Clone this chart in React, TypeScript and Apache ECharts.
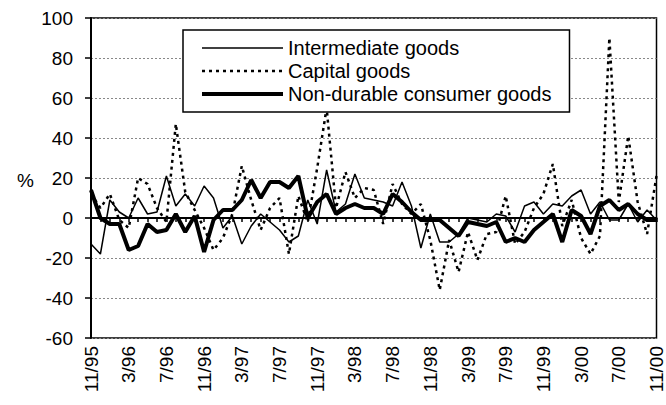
import React, { useEffect, useRef } from "react";
import * as echarts from "echarts";

const months: string[] = [
  "11/95", "12/95",
  "1/96", "2/96", "3/96", "4/96", "5/96", "6/96", "7/96", "8/96", "9/96", "10/96", "11/96", "12/96",
  "1/97", "2/97", "3/97", "4/97", "5/97", "6/97", "7/97", "8/97", "9/97", "10/97", "11/97", "12/97",
  "1/98", "2/98", "3/98", "4/98", "5/98", "6/98", "7/98", "8/98", "9/98", "10/98", "11/98", "12/98",
  "1/99", "2/99", "3/99", "4/99", "5/99", "6/99", "7/99", "8/99", "9/99", "10/99", "11/99", "12/99",
  "1/00", "2/00", "3/00", "4/00", "5/00", "6/00", "7/00", "8/00", "9/00", "10/00", "11/00",
];

const intermediateGoods: number[] = [
  -13, -18, 9, 3, 0, 10, 2, 3, 21, 6,
  12, 6, 16, 10, -5, 1, -13, -4, 2, -2,
  -6, -12, -9, 9, -3, 24, 3, 7, 22, 10,
  9, 8, 6, 18, 6, -15, 2, -12, -12, -8,
  0, -1, -2, 2, 1, -7, 6, 8, 2, 7,
  6, 11, 14, 2, 8, -1, -1, 7, -2, 4,
  -1,
];

const capitalGoods: number[] = [
  12, 5, 12, -1, -5, 20, 17, 5, -2, 47,
  13, 4, -5, -16, -10, 2, 26, 9, -6, 5,
  10, -18, 11, -2, 25, 55, 5, 23, 10, 15,
  14, -3, 17, 7, 2, 7, -11, -36, -11, -27,
  -7, -21, -8, -7, 11, -13, -7, 5, 12, 27,
  -4, 9, -10, -18, -9, 90, 8, 41, 8, -8,
  21,
];

const nonDurableGoods: number[] = [
  14, 0, -3, -3, -16, -14, -3, -7, -6, 2,
  -7, 1, -17, -1, 4, 4, 9, 19, 10, 18,
  18, 15, 21, 0, 8, 12, 2, 5, 7, 5,
  5, 2, 12, 8, 3, -1, -1, -1, -5, -9,
  -2, -3, -4, -2, -12, -10, -12, -6, -2, 2,
  -12, 4, 1, -8, 6, 9, 4, 7, 2, -1,
  -1,
];

const seriesNames = ["Intermediate goods", "Capital goods", "Non-durable consumer goods"];
const yTicks = { min: -60, max: 100, interval: 20 };

const FONT = "'Liberation Sans', Arial, Helvetica, sans-serif";

const lineStyles = [
  { color: "#000", width: 1.5, type: "solid" as any },
  { color: "#000", width: 2.5, type: [3, 4] as any },
  { color: "#000", width: 4, type: "solid" as any },
];

export default function App() {
  const ref = useRef<HTMLDivElement>(null);

  useEffect(() => {
    if (!ref.current) return;
    const chart = echarts.init(ref.current, undefined, { renderer: "svg" });
    chart.setOption({
      animation: false,
      backgroundColor: "#ffffff",
      textStyle: { fontFamily: FONT, color: "#000" },
      grid: {
        left: 91,
        right: 4,
        top: 18,
        bottom: 67,
        show: true,
        borderColor: "#000",
        borderWidth: 1.5,
        backgroundColor: "transparent",
      },
      legend: {
        orient: "vertical",
        left: 183,
        top: 30,
        padding: [8, 18, 8, 17],
        itemWidth: 81,
        itemHeight: 20,
        itemGap: 3,
        backgroundColor: "#fff",
        borderColor: "#000",
        borderWidth: 1.5,
        itemStyle: { opacity: 0 },
        textStyle: { fontFamily: FONT, fontSize: 20, color: "#000" },
        data: seriesNames.map((n, k) => ({
          name: n,
          lineStyle: { ...lineStyles[k], opacity: 1 },
          itemStyle: { opacity: 0 },
        })),
        selectedMode: false,
      },
      xAxis: {
        type: "category",
        data: months,
        boundaryGap: false,
        axisLine: { show: true, lineStyle: { color: "#000", width: 2 } },
        axisTick: { show: true, interval: 0, length: 4, inside: false, lineStyle: { color: "#000", width: 1.5 } },
        axisLabel: {
          interval: 3,
          rotate: 90,
          margin: 8,
          fontSize: 19,
          fontFamily: FONT,
          color: "#000",
        },
        splitLine: { show: false },
      },
      yAxis: {
        type: "value",
        min: yTicks.min,
        max: yTicks.max,
        interval: yTicks.interval,
        axisLine: { show: true, lineStyle: { color: "#000", width: 2 } },
        axisTick: { show: true, length: 6, lineStyle: { color: "#000", width: 1.5 } },
        axisLabel: { margin: 18, fontSize: 19, fontFamily: FONT, color: "#000" },
        splitLine: { show: true, lineStyle: { color: "#888", width: 1, type: [2, 2] } },
      },
      graphic: [
        {
          type: "text",
          left: 17,
          top: 171,
          style: { text: "%", fontSize: 19, fontFamily: FONT, fill: "#000" },
        },
      ],
      series: [
        {
          name: seriesNames[0],
          type: "line",
          data: intermediateGoods,
          symbol: "none",
          lineStyle: lineStyles[0],
          itemStyle: { color: "#000" },
          z: 2,
        },
        {
          name: seriesNames[1],
          type: "line",
          data: capitalGoods,
          symbol: "none",
          lineStyle: lineStyles[1],
          itemStyle: { color: "#000" },
          z: 3,
        },
        {
          name: seriesNames[2],
          type: "line",
          data: nonDurableGoods,
          symbol: "none",
          lineStyle: lineStyles[2],
          itemStyle: { color: "#000" },
          z: 4,
        },
      ],
    });
    return () => chart.dispose();
  }, []);

  return (
    <div
      ref={ref}
      style={{ position: "fixed", left: 0, top: 0, width: 666, height: 405, background: "#fff" }}
    />
  );
}
